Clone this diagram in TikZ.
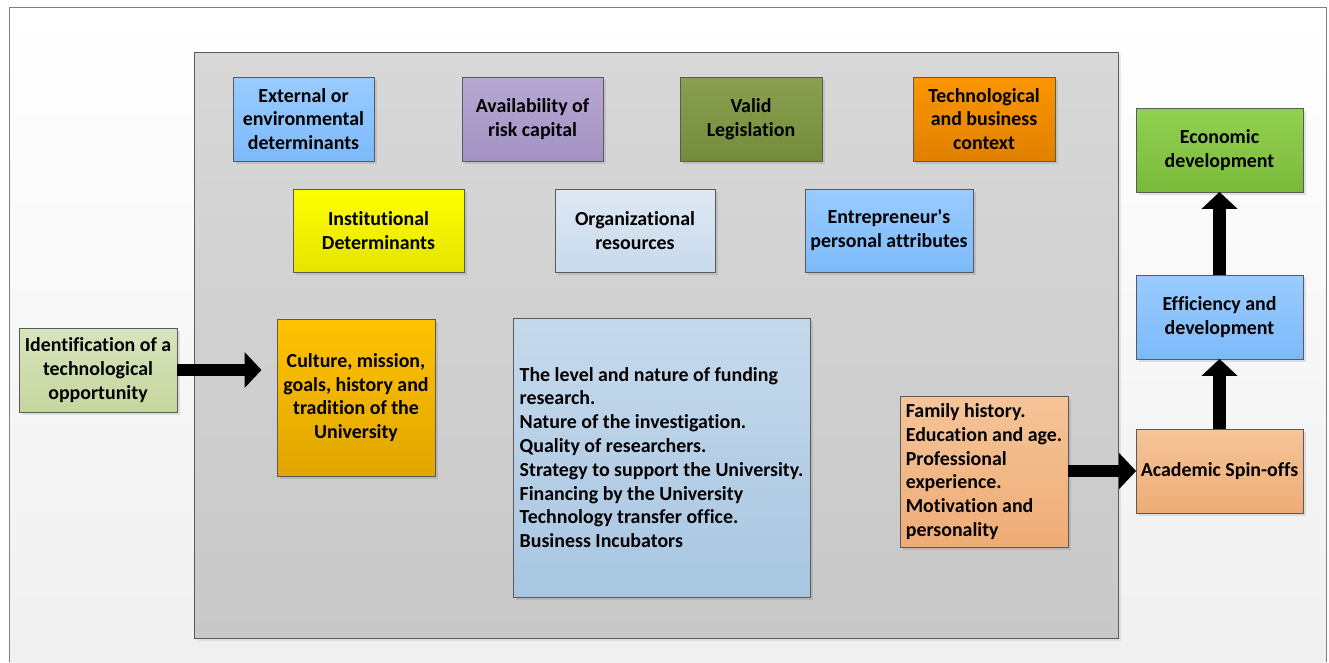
\documentclass[tikz,border=0pt]{standalone}
\usepackage{fontspec}
\setmainfont[Ligatures={NoCommon,TeXOff}]{Carlito}
\usetikzlibrary{arrows.meta,shadows}
\definecolor{frameline}{HTML}{808080}
\definecolor{boxline}{HTML}{5A5A5A}
\tikzset{
  box/.style={draw=boxline, line width=0.8pt, inner sep=0pt, align=center,
    font=\bfseries\fontsize{19.9}{23.8}\selectfont,
    drop shadow={shadow xshift=2.5pt, shadow yshift=-2.5pt, fill=black, opacity=0.10}},
  bluebox/.style={box, top color={rgb,255:red,153;green,204;blue,255}, bottom color={rgb,255:red,125;green,185;blue,250}},
  purplebox/.style={box, top color={rgb,255:red,183;green,168;blue,210}, bottom color={rgb,255:red,163;green,146;blue,195}},
  olivebox/.style={box, top color={rgb,255:red,138;green,160;blue,80}, bottom color={rgb,255:red,115;green,140;blue,60}},
  orangebox/.style={box, top color={rgb,255:red,250;green,150;blue,0}, bottom color={rgb,255:red,225;green,128;blue,0}},
  yellowbox/.style={box, top color={rgb,255:red,255;green,255;blue,0}, bottom color={rgb,255:red,228;green,228;blue,0}},
  palebox/.style={box, top color={rgb,255:red,222;green,232;blue,243}, bottom color={rgb,255:red,200;green,218;blue,236}},
  sagebox/.style={box, top color={rgb,255:red,215;green,228;blue,189}, bottom color={rgb,255:red,198;green,214;blue,158}},
  goldbox/.style={box, top color={rgb,255:red,255;green,194;blue,0}, bottom color={rgb,255:red,224;green,166;blue,0}},
  steelbox/.style={box, top color={rgb,255:red,198;green,217;blue,236}, bottom color={rgb,255:red,168;green,198;blue,225}},
  peachbox/.style={box, top color={rgb,255:red,245;green,196;blue,152}, bottom color={rgb,255:red,238;green,172;blue,118}},
  greenbox/.style={box, top color={rgb,255:red,146;green,208;blue,80}, bottom color={rgb,255:red,122;green,186;blue,58}},
  bigarrow/.style={draw=black, line width=12.5pt, -{Triangle[length=17pt, width=35pt]}, shorten >=-0.5pt},
}
\begin{document}
\begin{tikzpicture}[x=1pt, y=-1pt]
\useasboundingbox (0,0) rectangle (1329,662);
% outer frame
\fill[top color=white, bottom color={rgb,255:red,240;green,240;blue,240}] (9,7) rectangle (1326,662);
\draw[frameline, line width=1pt] (9,662) -- (9,7) -- (1326,7) -- (1326,662);
% grey panel
\fill[black, opacity=0.08] (197,55) rectangle (1121,641);
\draw[draw=boxline, line width=0.9pt, top color={rgb,255:red,216;green,216;blue,216}, bottom color={rgb,255:red,200;green,200;blue,200}] (194,52) rectangle (1118,638);
% top row
\node[bluebox, minimum width=141pt, minimum height=84pt] (ext) at (303.5,119) {External or\\environmental\\determinants};
\node[purplebox, minimum width=141pt, minimum height=84pt] (avail) at (532.5,119) {Availability of\\risk capital};
\node[olivebox, minimum width=142pt, minimum height=84pt] (legis) at (751,119) {Valid\\Legislation};
\node[orangebox, minimum width=142pt, minimum height=84pt] (tech) at (984,119) {Technological\\and business\\context};
% second row
\node[yellowbox, minimum width=171pt, minimum height=83pt] (inst) at (378.5,230.5) {Institutional\\Determinants};
\node[palebox, minimum width=160pt, minimum height=83pt] (org) at (635,230.5) {Organizational\\resources};
\node[bluebox, minimum width=168pt, minimum height=83pt] (entre) at (889,230.5) {Entrepreneur's\\personal attributes};
% left
\node[sagebox, minimum width=158pt, minimum height=84pt] (ident) at (98,370) {Identification of a\\technological\\opportunity};
\node[goldbox, minimum width=158pt, minimum height=157pt] (cult) at (356,397.5) {Culture, mission,\\goals, history and\\tradition of the\\University};
\node[steelbox, minimum width=297pt, minimum height=279pt, align=left] (level) at (661.5,457.5) {The level and nature of funding\\research.\\Nature of the investigation.\\Quality of researchers.\\Strategy to support the University.\\Financing by the University\\Technology transfer office.\\Business Incubators};
\node[peachbox, minimum width=168pt, minimum height=151pt, align=left] (family) at (984,471.5) {Family history.\\Education and age.\\Professional\\experience.\\Motivation and\\personality};
% right column
\node[peachbox, minimum width=167pt, minimum height=84pt] (spin) at (1219.5,471) {Academic Spin-offs};
\node[bluebox, minimum width=167pt, minimum height=84pt] (eff) at (1219.5,317) {Efficiency and\\development};
\node[greenbox, minimum width=167pt, minimum height=84pt] (econ) at (1219.5,150) {Economic\\development};
% arrows
\coordinate (culttip) at (261,370);
\draw[bigarrow] (ident.east) -- (culttip);
\draw[bigarrow] (family.east |- spin.west) -- (spin.west);
\draw[bigarrow] (spin.north) -- (eff.south);
\draw[bigarrow] (eff.north) -- (econ.south);
\end{tikzpicture}
\end{document}
